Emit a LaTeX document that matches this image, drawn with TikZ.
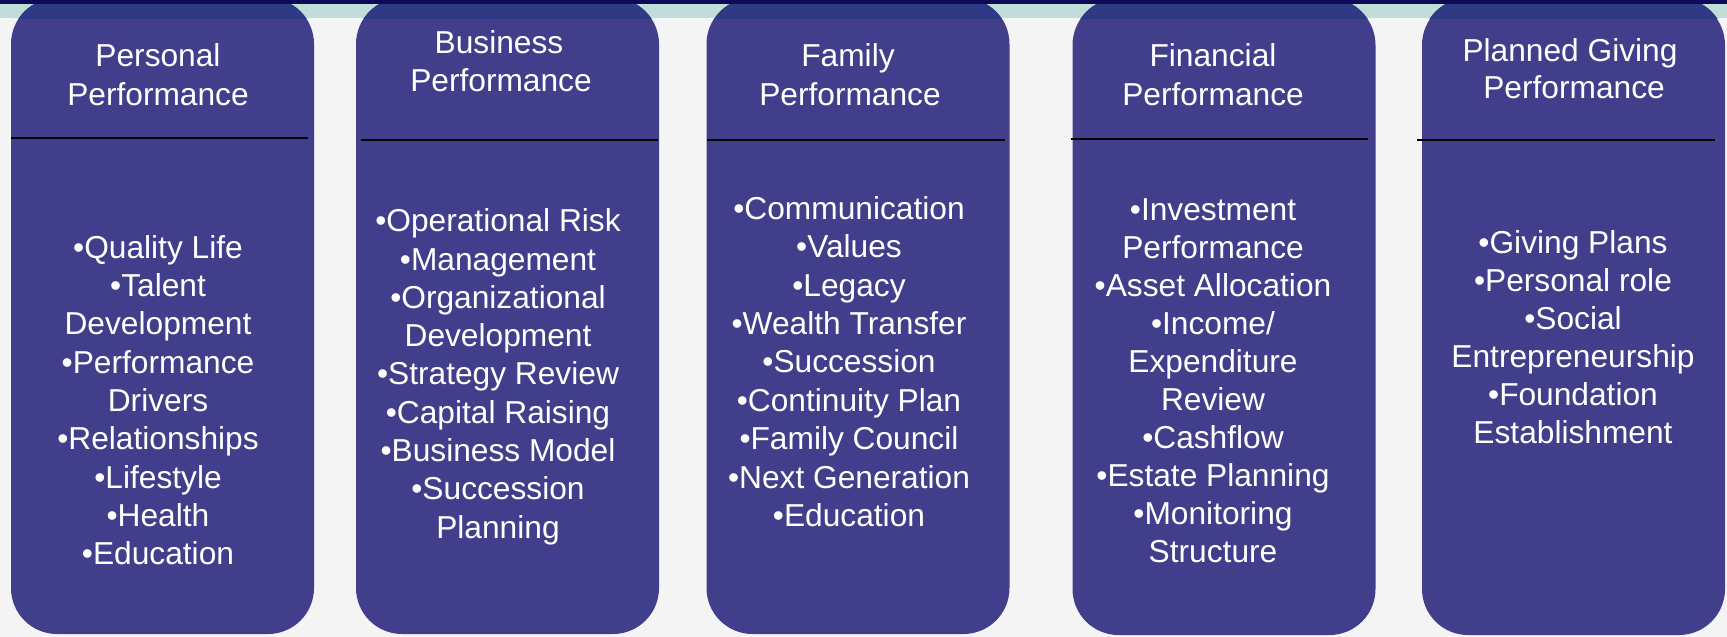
\documentclass[tikz,border=0pt]{standalone}
\usepackage{fontspec}
\setmainfont{Liberation Sans}
\definecolor{panelfill}{HTML}{413F8B}
\definecolor{paneltop}{HTML}{2F3A84}
\definecolor{pagebg}{HTML}{F4F4F4}
\definecolor{bandteal}{HTML}{BFDDD9}
\definecolor{topstrip}{HTML}{0B0B58}
\tikzset{
  panel/.style={fill=panelfill, draw=none, rounded corners=46pt, inner sep=0pt,
    minimum width=303pt, minimum height=636pt},
  txt/.style={text=white, font=\fontsize{31.7}{38.3}\selectfont, inner sep=0pt, anchor=base},
  divider/.style={draw=black, line width=1.8pt},
}
\begin{document}
\begin{tikzpicture}[x=1pt, y=-1pt]
  \useasboundingbox (0,0) rectangle (1727,637);
  % page background and header band
  \fill[pagebg] (0,0) rectangle (1727,637);
  \fill[bandteal] (0,4) rectangle (1727,18);

  % the five panels
  \node[panel] (p1) at (162.5,316) {};
  \node[panel] (p2) at (507.5,316) {};
  \node[panel] (p3) at (858,316) {};
  \node[panel] (p4) at (1224,317) {};
  \node[panel] (p5) at (1573.5,317) {};

  % darker tops of the panels where they cross the band
  \begin{scope}
    \clip (0,4) rectangle (1727,18);
    \foreach \l/\r in {11/314, 356/659, 707/1009, 1073/1375, 1422/1725}
      \fill[paneltop, rounded corners=46pt] (\l,-2) rectangle (\r,634);
  \end{scope}
  \fill[topstrip] (0,0) rectangle (1727,4);

  % dividers under the headings
  \coordinate (d1a) at (11,138);   \coordinate (d1b) at (308,138);
  \coordinate (d2a) at (361,140);  \coordinate (d2b) at (658,140);
  \coordinate (d3a) at (707,140);  \coordinate (d3b) at (1005,140);
  \coordinate (d4a) at (1071,139); \coordinate (d4b) at (1368,139);
  \coordinate (d5a) at (1417,140); \coordinate (d5b) at (1715,140);
  \foreach \k in {1,...,5} \draw[divider] (d\k a) -- (d\k b);

  % headings
  \node[txt] (h1a) at (158,66) {Personal};
  \node[txt] (h1b) at (158,105) {Performance};
  \node[txt] (h2a) at (499,53.3) {Business};
  \node[txt] (h2b) at (501,91.7) {Performance};
  \node[txt] (h3a) at (848,66.7) {Family};
  \node[txt] (h3b) at (850,105) {Performance};
  \node[txt] (h4a) at (1213,66) {Financial};
  \node[txt] (h4b) at (1213,105) {Performance};
  \node[txt] (h5a) at (1570,61) {Planned Giving};
  \node[txt] (h5b) at (1574,98.3) {Performance};

  % bullet lists
  \foreach \t [count=\i] in {•Quality Life, •Talent, Development, •Performance,
      Drivers, •Relationships, •Lifestyle, •Health, •Education}
    \node[txt] (a\i) at (158,258+38.35*\i-38.35) {\t};
  \foreach \t [count=\i] in {•Operational Risk, •Management, •Organizational,
      Development, •Strategy Review, •Capital Raising, •Business Model,
      •Succession, Planning}
    \node[txt] (b\i) at (498,231.7+38.3*\i-38.3) {\t};
  \foreach \t [count=\i] in {•Communication, •Values, •Legacy, •Wealth Transfer,
      •Succession, •Continuity Plan, •Family Council, •Next Generation, •Education}
    \node[txt] (c\i) at (849,219.3+38.4*\i-38.4) {\t};
  \foreach \t [count=\i] in {•Investment, Performance, •Asset Allocation, •Income/,
      Expenditure, Review, •Cashflow, •Estate Planning, •Monitoring, Structure}
    \node[txt] (e\i) at (1213,220+38.1*\i-38.1) {\t};
  \foreach \t [count=\i] in {•Giving Plans, •Personal role, •Social,
      Entrepreneurship, •Foundation, Establishment}
    \node[txt] (f\i) at (1573,253.3+37.95*\i-37.95) {\t};
\end{tikzpicture}
\end{document}
